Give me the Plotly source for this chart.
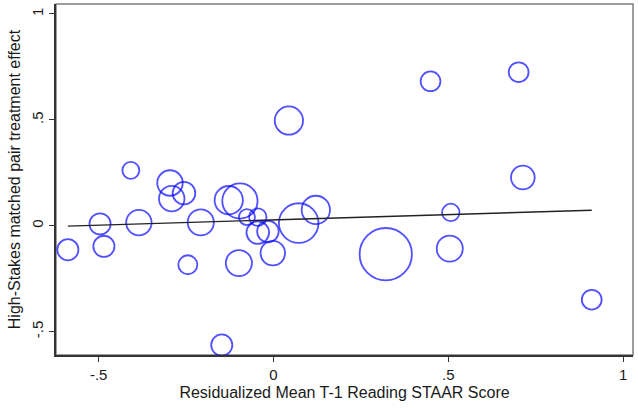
import numpy as np
import plotly.graph_objects as go

# Matched-pair estimates: residualized prior reading score vs. treatment effect
resid_score = [-0.588, -0.496, -0.485, -0.385, -0.408, -0.296, -0.291, -0.256,
               -0.245, -0.208, -0.148, -0.128, -0.096, -0.099, -0.076, -0.045,
               -0.045, -0.016, -0.002, 0.044, 0.072, 0.121, 0.321, 0.449,
               0.504, 0.507, 0.701, 0.713, 0.910]
effect = [-0.113, 0.009, -0.097, 0.015, 0.262, 0.202, 0.128, 0.154,
          -0.184, 0.016, -0.563, 0.121, 0.117, -0.176, 0.041, 0.041,
          -0.032, -0.027, -0.129, 0.497, 0.013, 0.075, -0.134, 0.682,
          -0.108, 0.063, 0.725, 0.228, -0.349]
# analytic weights (marker area)
pair_weight = [56, 56, 56, 81, 36, 81, 81, 64,
               45, 85, 56, 100, 156, 85, 32, 38,
               64, 58, 75, 100, 196, 100, 342, 49,
               85, 38, 49, 70, 49]

# linear fit
fit_intercept = 0.028
fit_slope = 0.050

x_ticks = [-0.5, 0, 0.5, 1]
x_tick_text = ["-.5", "0", ".5", "1"]
y_ticks = [-0.5, 0, 0.5, 1]
y_tick_text = ["-.5", "0", ".5", "1"]

FONT = "Liberation Sans, Arial, Helvetica, sans-serif"
TXT = "#1a1a1a"

fit_x = np.array([min(resid_score), max(resid_score)])
fit_y = fit_intercept + fit_slope * fit_x

fig = go.Figure()
fig.add_trace(go.Scatter(
    x=resid_score, y=effect, mode="markers",
    marker=dict(size=pair_weight, sizemode="area", sizeref=0.25,
                color="rgba(0,0,0,0)",
                line=dict(color="#0808ff", width=1.8)),
    showlegend=False, hoverinfo="x+y"))
fig.add_trace(go.Scatter(
    x=fit_x, y=fit_y, mode="lines",
    line=dict(color="#222222", width=1.4),
    showlegend=False))

# plot region border (top/right lighter)
fig.add_shape(type="rect", xref="paper", yref="paper", x0=0, y0=0, x1=1, y1=1,
              line=dict(color="#7f7f7f", width=1.5), layer="below")

fig.update_layout(
    width=638, height=408,
    margin=dict(l=56, r=5, t=4, b=53),
    paper_bgcolor="white", plot_bgcolor="white",
    font=dict(family=FONT, size=15, color=TXT),
    xaxis=dict(range=[-0.622, 1.028], tickvals=x_ticks, ticktext=x_tick_text,
               ticks="outside", ticklen=5, tickwidth=1.3, tickcolor="#333",
               showline=True, linecolor="#333", linewidth=1.8,
               showgrid=False, zeroline=False,
               tickfont=dict(size=15, color=TXT),
               title=dict(text="Residualized Mean T-1 Reading STAAR Score",
                          font=dict(size=16, color=TXT), standoff=5)),
    yaxis=dict(range=[-0.61, 1.047], tickvals=y_ticks, ticktext=y_tick_text,
               ticks="outside", ticklen=5, tickwidth=1.3, tickcolor="#333",
               showline=True, linecolor="#333", linewidth=1.8,
               showgrid=False, zeroline=False, tickangle=-90,
               tickfont=dict(size=15, color=TXT),
               title=dict(text="High-Stakes matched pair treatment effect",
                          font=dict(size=16, color=TXT), standoff=4)),
)

fig.write_html("out.html")
